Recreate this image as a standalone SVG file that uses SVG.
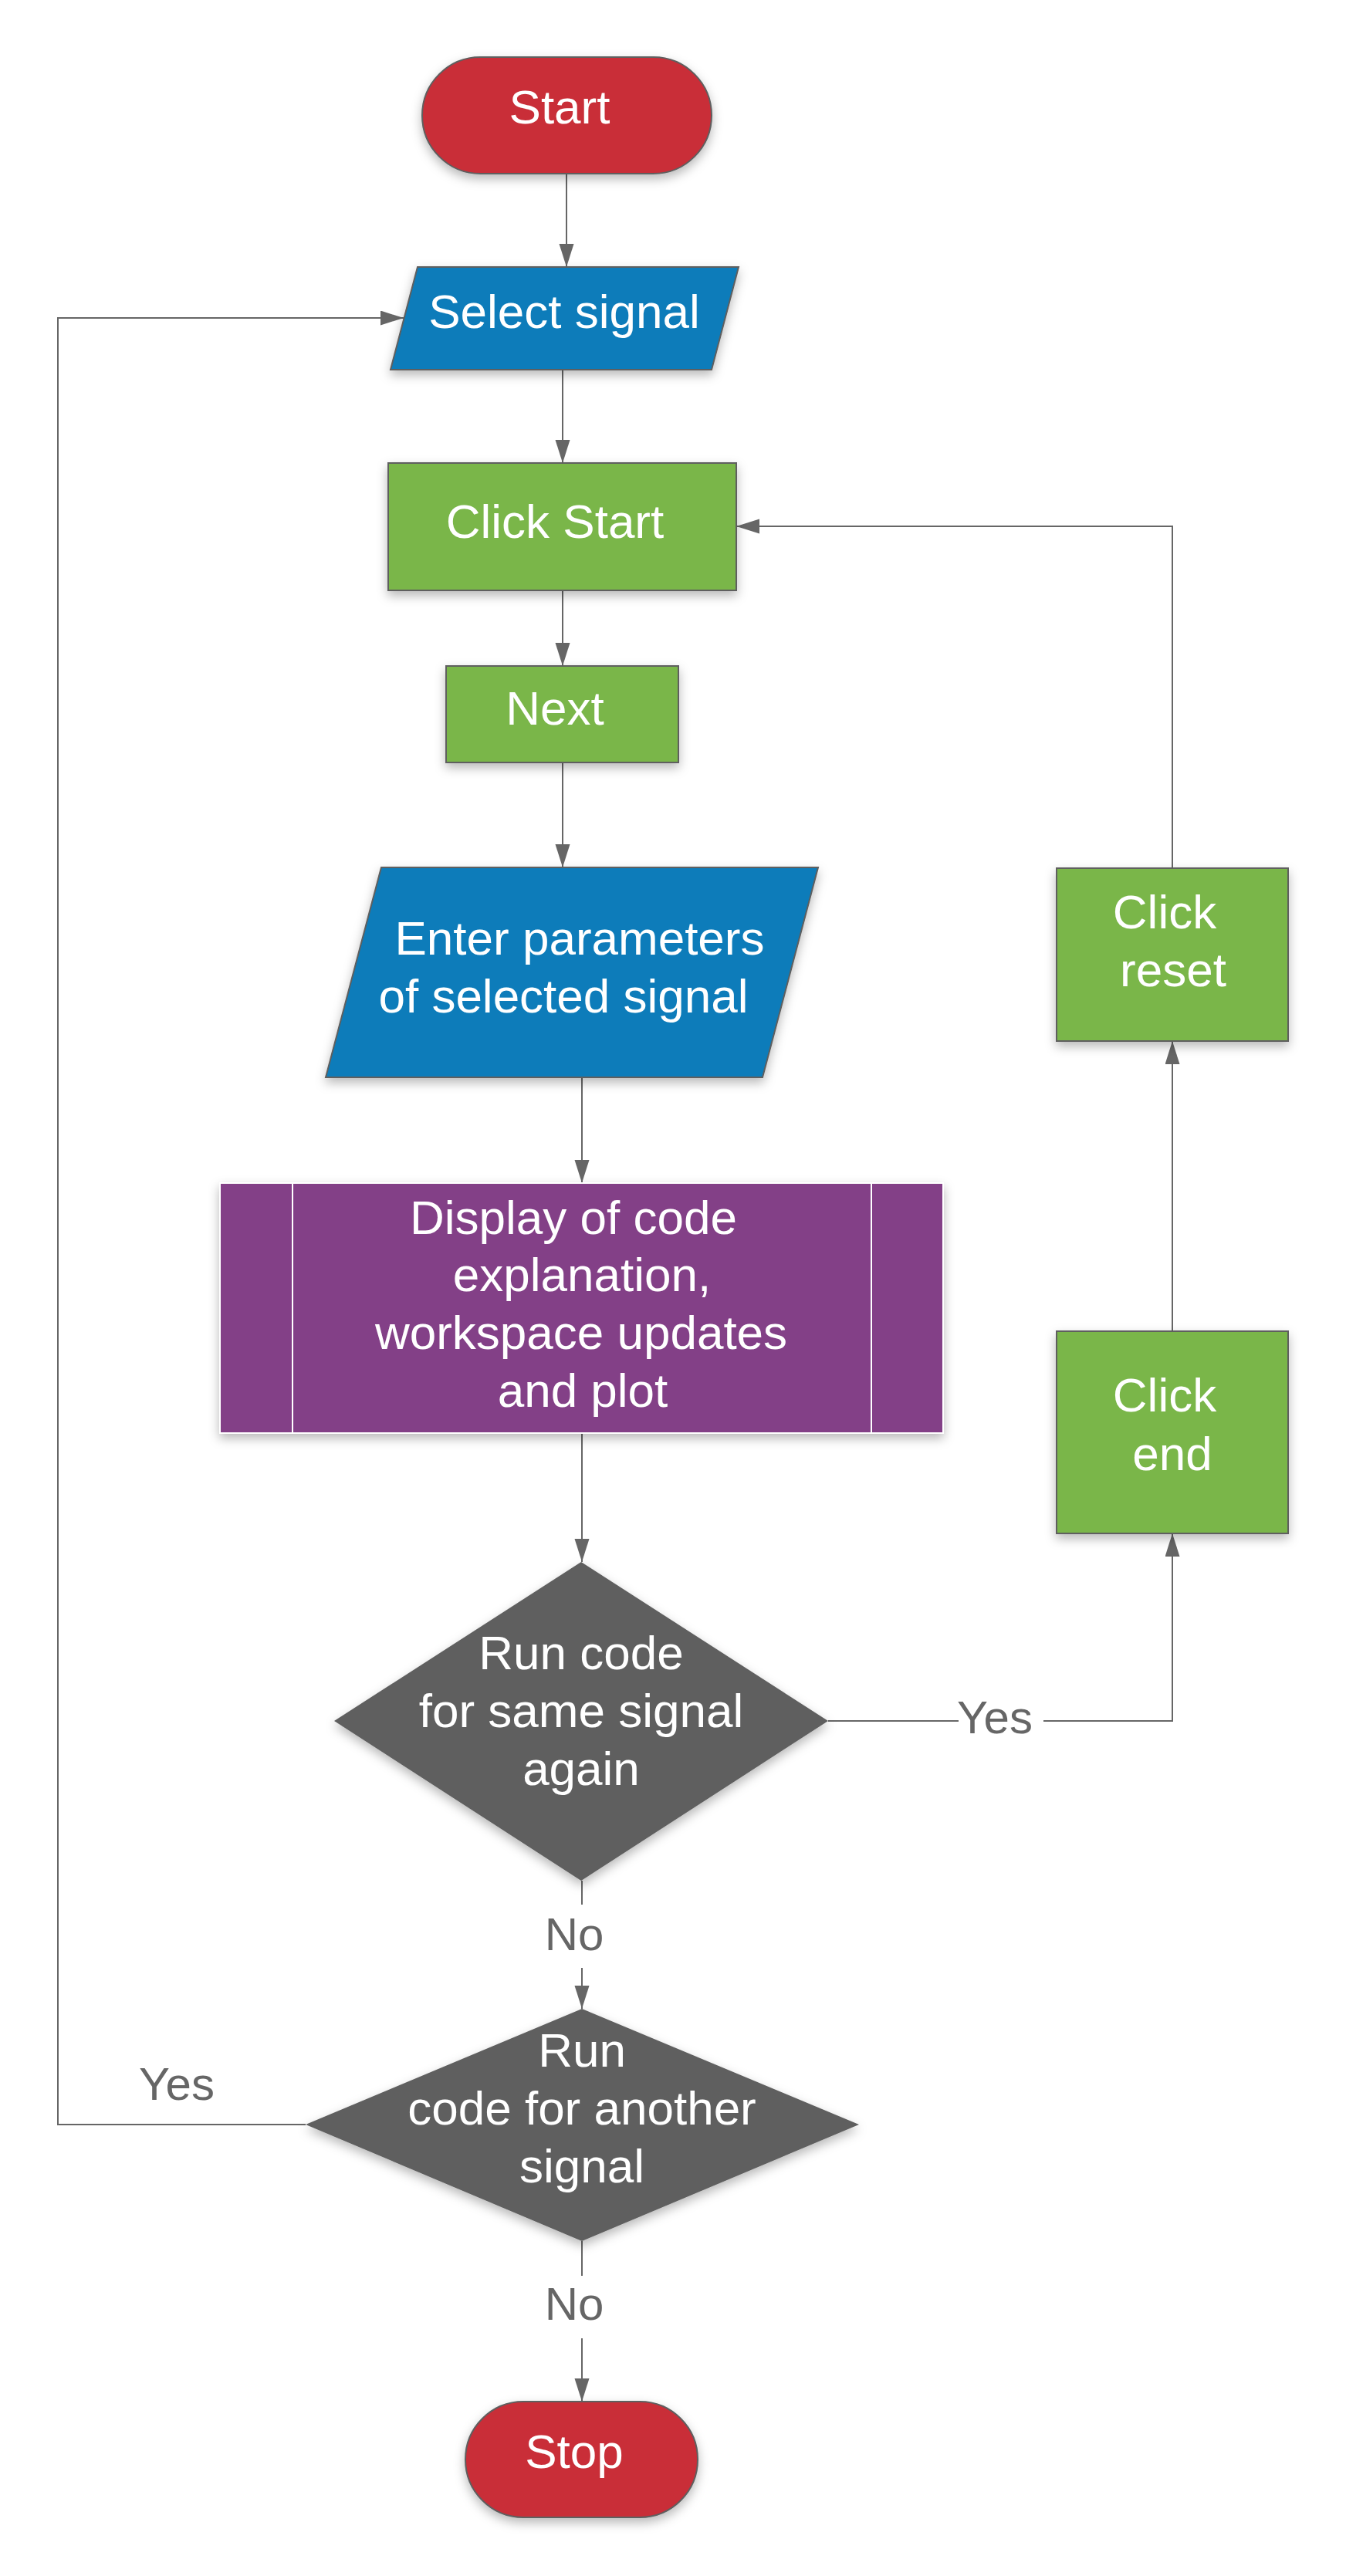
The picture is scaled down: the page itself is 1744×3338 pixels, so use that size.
<svg xmlns="http://www.w3.org/2000/svg" width="1744" height="3338" viewBox="0 0 1744 3338">
<defs>
<filter id="sh" x="-20%" y="-20%" width="140%" height="150%">
<feDropShadow dx="0" dy="6" stdDeviation="7" flood-color="#000" flood-opacity="0.28"/>
</filter>
<marker id="arr" markerUnits="userSpaceOnUse" markerWidth="30" markerHeight="20" refX="30" refY="9.5" orient="auto">
<path d="M0,0 L30,9.5 L0,19 z" fill="#666"/>
</marker>
</defs>
<style>
.t{font-family:"Liberation Sans",Arial,sans-serif;font-size:62px;fill:#fff;text-anchor:middle}
.l{font-family:"Liberation Sans",Arial,sans-serif;font-size:60px;fill:#666;text-anchor:middle}
.c{fill:none;stroke:#666;stroke-width:2}
.red{fill:#c92d39;stroke:#5e5e5e;stroke-width:2}
.blue{fill:#0c7cba;stroke:#5e5e5e;stroke-width:2}
.green{fill:#7ab648;stroke:#5e5e5e;stroke-width:2}
.purple{fill:#834187;stroke:#fff;stroke-width:2}
.gray{fill:#5e5e5e}
</style>
<rect width="1744" height="3338" fill="#fff"/>
<g id="connectors">
<path class="c" d="M734,225 V346" marker-end="url(#arr)"/>
<path class="c" d="M729,479 V600" marker-end="url(#arr)"/>
<path class="c" d="M729,765 V863" marker-end="url(#arr)"/>
<path class="c" d="M729,988 V1124" marker-end="url(#arr)"/>
<path class="c" d="M754,1396 V1533" marker-end="url(#arr)"/>
<path class="c" d="M754,1857 V2024" marker-end="url(#arr)"/>
<path class="c" d="M1073,2230 H1242"/>
<path class="c" d="M1352,2230 H1519 V1987" marker-end="url(#arr)"/>
<path class="c" d="M1519,1725 V1349" marker-end="url(#arr)"/>
<path class="c" d="M1519,1125 V682 H954" marker-end="url(#arr)"/>
<path class="c" d="M754,2437 V2468"/>
<path class="c" d="M754,2550 V2603" marker-end="url(#arr)"/>
<path class="c" d="M396,2753 H75 V412 H523" marker-end="url(#arr)"/>
<path class="c" d="M754,2904 V2949"/>
<path class="c" d="M754,3030 V3112" marker-end="url(#arr)"/>
<text class="l" x="1289" y="2246">Yes</text>
<text class="l" x="744" y="2527">No</text>
<text class="l" x="229" y="2721">Yes</text>
<text class="l" x="744" y="3006">No</text>
</g>
<g id="start">
<rect class="red" x="547" y="74" width="375" height="151" rx="75.5" filter="url(#sh)"/>
<text class="t" x="725" y="160">Start</text>
</g>
<g id="select-signal">
<polygon class="blue" points="541,346 957,346 922,479 506,479" filter="url(#sh)"/>
<text class="t" x="731" y="425">Select signal</text>
</g>
<g id="click-start">
<rect class="green" x="503" y="600" width="451" height="165" filter="url(#sh)"/>
<text class="t" x="719" y="697">Click Start</text>
</g>
<g id="next">
<rect class="green" x="578" y="863" width="301" height="125" filter="url(#sh)"/>
<text class="t" x="719" y="939">Next</text>
</g>
<g id="enter-parameters">
<polygon class="blue" points="494,1124 1060,1124 988,1396 422,1396" filter="url(#sh)"/>
<text class="t" x="751" y="1237">Enter parameters</text>
<text class="t" x="730" y="1312">of selected signal</text>
</g>
<g id="display">
<rect class="purple" x="285" y="1533" width="937" height="324" filter="url(#sh)"/>
<line x1="379" y1="1533" x2="379" y2="1857" stroke="#fff" stroke-width="2"/>
<line x1="1129" y1="1533" x2="1129" y2="1857" stroke="#fff" stroke-width="2"/>
<text class="t" x="743" y="1599">Display of code</text>
<text class="t" x="754" y="1673">explanation,</text>
<text class="t" x="753" y="1748">workspace updates</text>
<text class="t" x="755" y="1823">and plot</text>
</g>
<g id="decision-same">
<polygon class="gray" points="753,2024 1073,2230 753,2437 433,2230" filter="url(#sh)"/>
<text class="t" x="753" y="2163">Run code</text>
<text class="t" x="753" y="2238">for same signal</text>
<text class="t" x="753" y="2313">again</text>
</g>
<g id="decision-another">
<polygon class="gray" points="754,2603 1113,2753 754,2904 396,2753" filter="url(#sh)"/>
<text class="t" x="754" y="2678">Run</text>
<text class="t" x="754" y="2753">code for another</text>
<text class="t" x="754" y="2828">signal</text>
</g>
<g id="click-end">
<rect class="green" x="1369" y="1725" width="300" height="262" filter="url(#sh)"/>
<text class="t" x="1509" y="1829">Click</text>
<text class="t" x="1519" y="1905">end</text>
</g>
<g id="click-reset">
<rect class="green" x="1369" y="1125" width="300" height="224" filter="url(#sh)"/>
<text class="t" x="1509" y="1203">Click</text>
<text class="t" x="1520" y="1278">reset</text>
</g>
<g id="stop">
<rect class="red" x="603" y="3112" width="301" height="150" rx="75" filter="url(#sh)"/>
<text class="t" x="744" y="3198">Stop</text>
</g>
</svg>
